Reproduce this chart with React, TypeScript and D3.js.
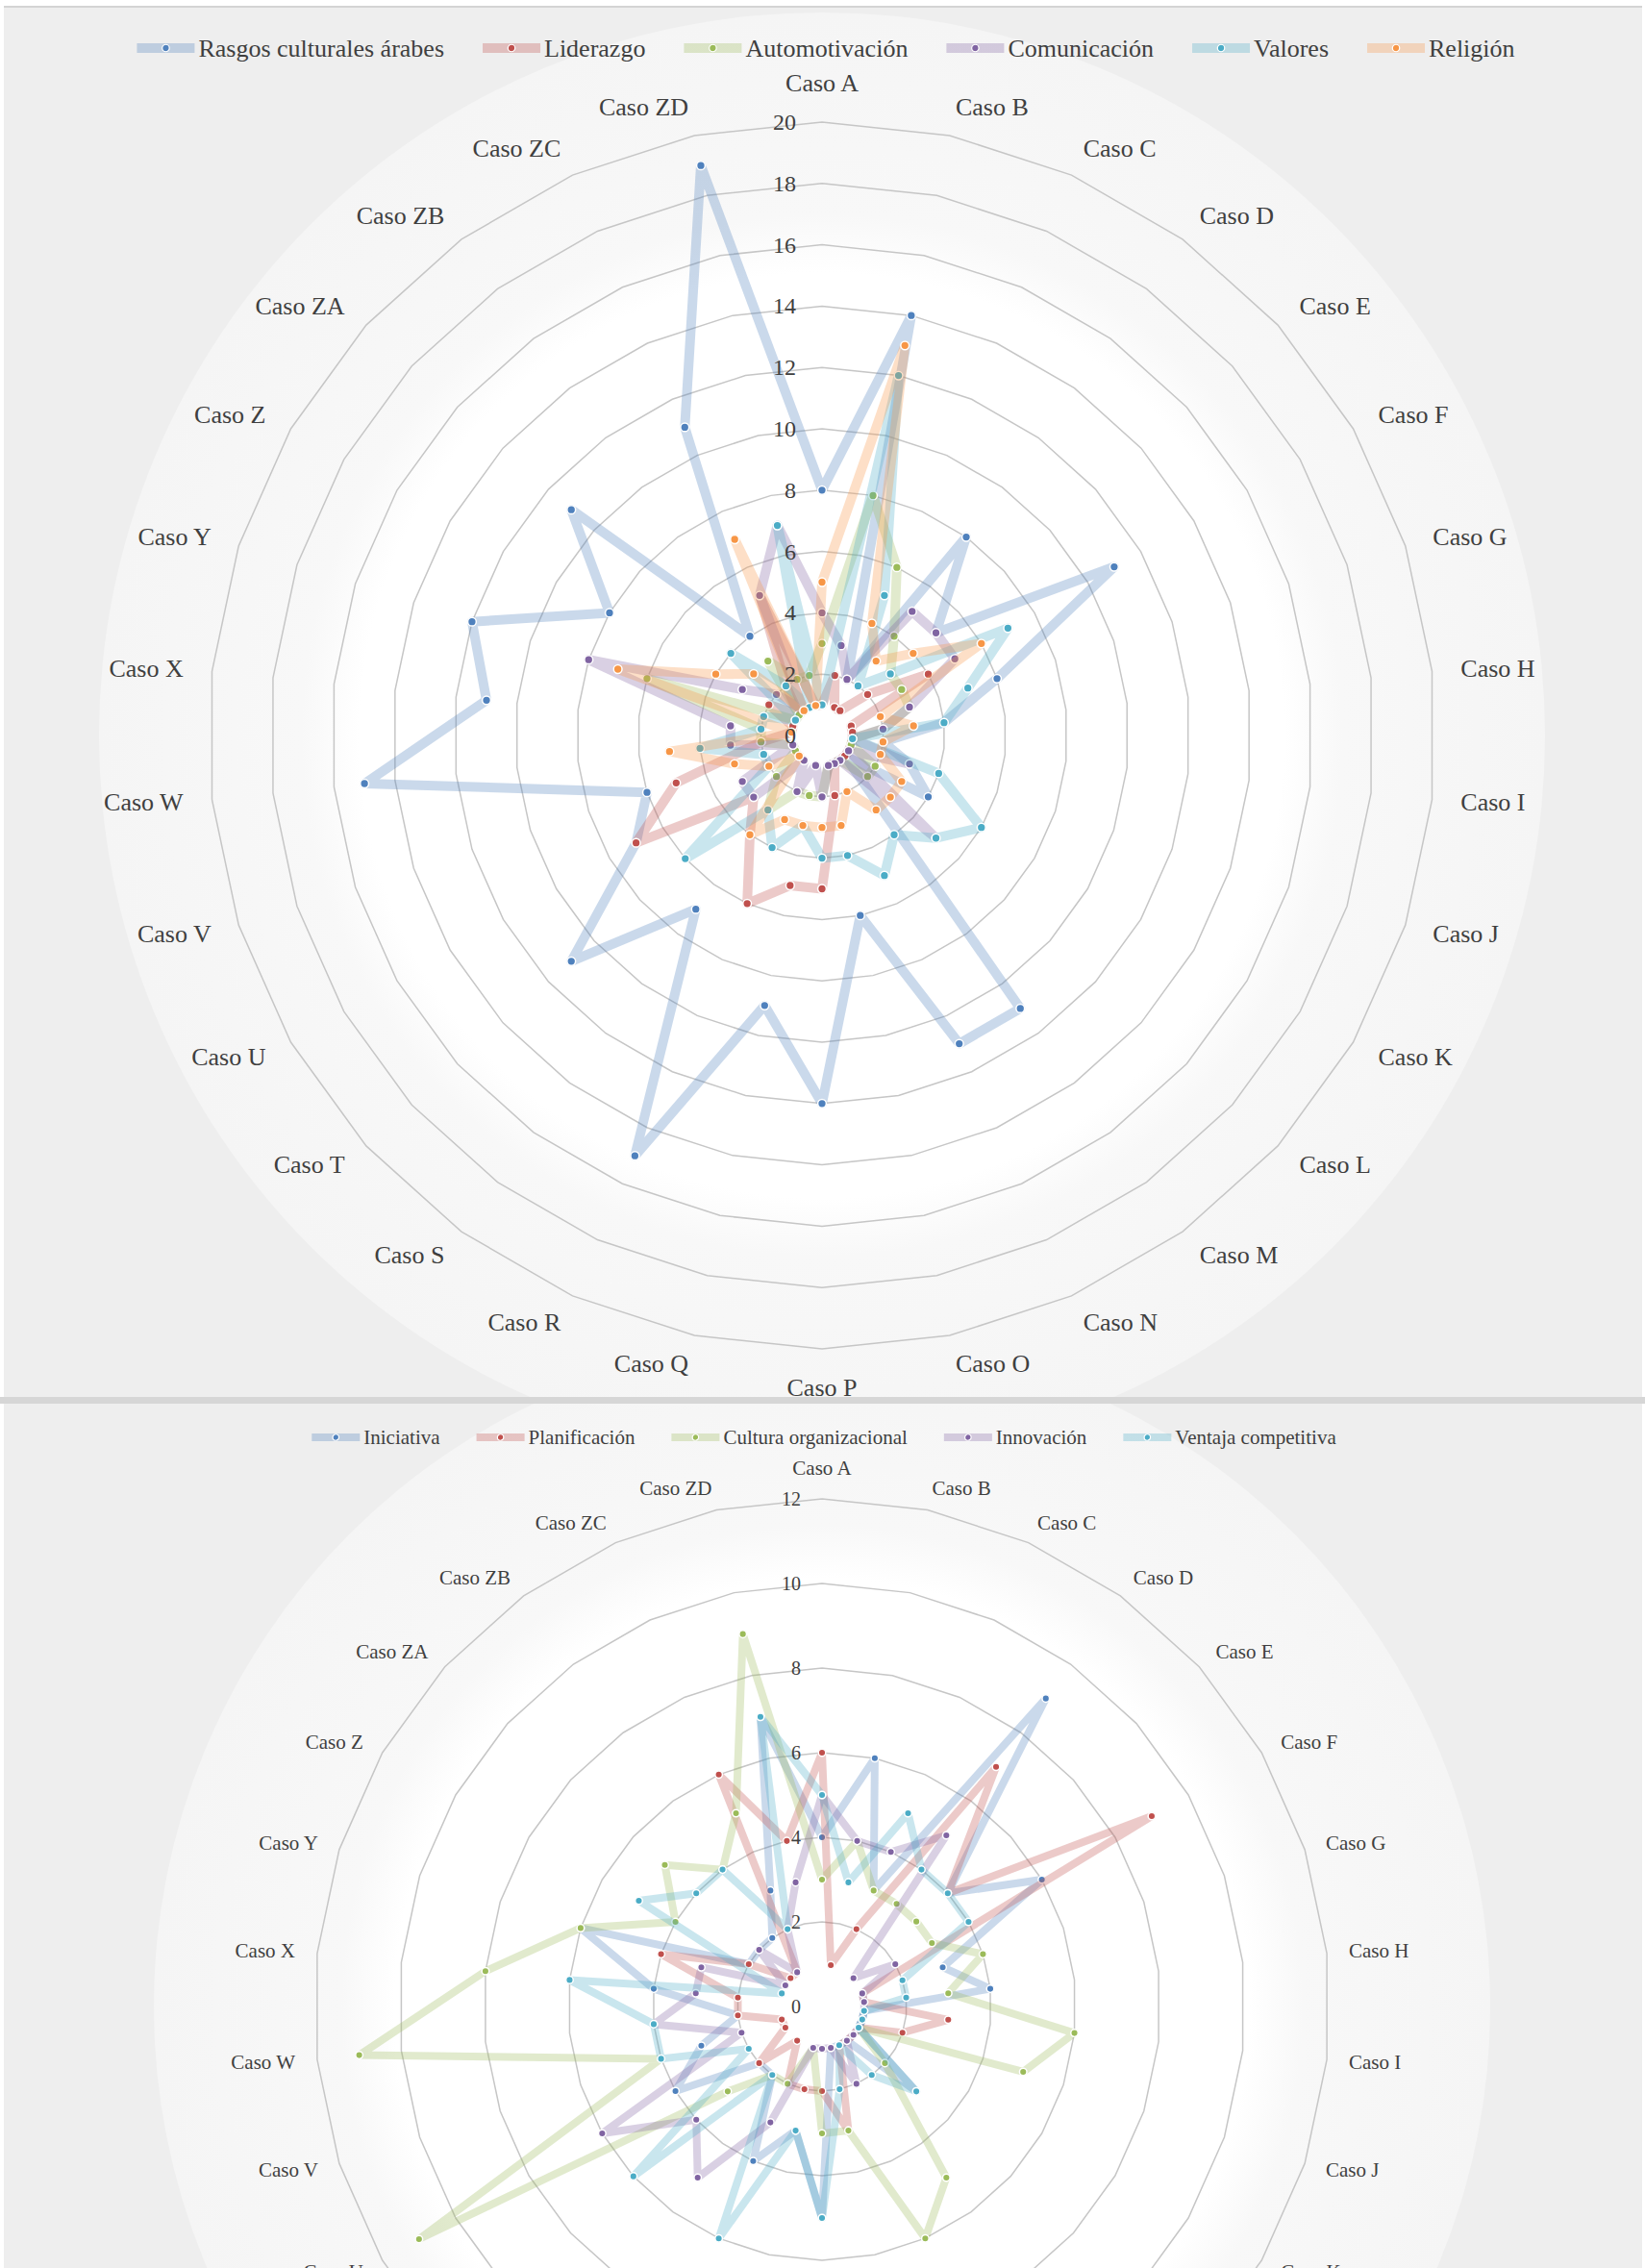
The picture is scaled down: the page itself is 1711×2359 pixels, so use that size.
import React, { useEffect, useRef } from 'react';
import * as d3 from 'd3';

const casos = [
  'Caso A', 'Caso B', 'Caso C', 'Caso D', 'Caso E', 'Caso F', 'Caso G', 'Caso H',
  'Caso I', 'Caso J', 'Caso K', 'Caso L', 'Caso M', 'Caso N', 'Caso O', 'Caso P',
  'Caso Q', 'Caso R', 'Caso S', 'Caso T', 'Caso U', 'Caso V', 'Caso W', 'Caso X',
  'Caso Y', 'Caso Z', 'Caso ZA', 'Caso ZB', 'Caso ZC', 'Caso ZD',
];

const topTicks = [0, 2, 4, 6, 8, 10, 12, 14, 16, 18, 20];
const bottomTicks = [0, 2, 4, 6, 8, 10, 12];

// top chart series (Caso A .. Caso ZD)
const rasgos = [8, 14, 2, 8, 5, 11, 6, 4, 2, 3, 4, 1, 11, 11, 6, 12, 9, 15, 7, 11, 7, 6, 15, 11, 12, 8, 11, 4, 11, 19];
const liderazgo = [1, 2, 1, 1, 2, 4, 1, 1, 1, 1, 1, 1, 1, 1, 2, 5, 5, 6, 4, 3, 7, 5, 2, 1, 1, 2, 1, 2, 5, 1];
const automotivacion = [3, 8, 6, 4, 3, 3, 3, 2, 1, 1, 2, 2, 1, 1, 1, 2, 2, 2, 3, 2, 1, 1, 2, 2, 6, 1, 1, 3, 2, 2];
const comunicacion = [4, 3, 2, 5, 5, 5, 3, 2, 1, 3, 1, 5, 1, 1, 1, 2, 1, 2, 1, 3, 3, 1, 3, 3, 8, 3, 2, 1, 5, 7];
const valores = [1, 12, 5, 2, 3, 7, 5, 4, 1, 4, 6, 5, 4, 5, 4, 4, 3, 4, 3, 6, 2, 2, 4, 2, 2, 1, 4, 2, 1, 7];
const religion = [5, 13, 4, 3, 4, 6, 2, 3, 2, 2, 3, 3, 3, 2, 3, 3, 3, 3, 4, 1, 2, 3, 5, 1, 7, 4, 3, 1, 7, 1];

// bottom chart series
const iniciativa = [4, 6, 3, 9, 4, 6, 3, 4, 1, 1, 1, 3, 1, 1, 1, 5, 3, 4, 2, 2, 4, 3, 2, 4, 6, 2, 2, 2, 3, 7];
const planificacion = [6, 1, 2, 7, 4, 9, 1, 1, 3, 2, 1, 1, 1, 1, 3, 2, 2, 2, 1, 2, 1, 1, 2, 2, 4, 2, 1, 1, 6, 4];
const cultura = [3, 4, 3, 3, 3, 3, 4, 3, 6, 5, 1, 2, 5, 6, 3, 3, 1, 2, 2, 3, 11, 4, 11, 8, 6, 4, 5, 4, 5, 9];
const innovacion = [5, 4, 4, 5, 1, 2, 1, 1, 1, 1, 1, 1, 1, 2, 1, 1, 1, 3, 5, 4, 6, 2, 4, 3, 3, 1, 2, 1, 2, 3];
const ventaja = [5, 3, 5, 4, 4, 4, 2, 2, 1, 1, 1, 3, 2, 1, 2, 5, 3, 6, 2, 6, 2, 4, 4, 6, 1, 5, 4, 4, 2, 7];

const colors = ['#4F81BD', '#C0504D', '#9BBB59', '#8064A2', '#4BACC6', '#F79646'];

const topSeries = [
  { name: 'Rasgos culturales árabes', values: rasgos },
  { name: 'Liderazgo', values: liderazgo },
  { name: 'Automotivación', values: automotivacion },
  { name: 'Comunicación', values: comunicacion },
  { name: 'Valores', values: valores },
  { name: 'Religión', values: religion },
];

const bottomSeries = [
  { name: 'Iniciativa', values: iniciativa },
  { name: 'Planificación', values: planificacion },
  { name: 'Cultura organizacional', values: cultura },
  { name: 'Innovación', values: innovacion },
  { name: 'Ventaja competitiva', values: ventaja },
];

const FONT = '"Liberation Serif", "Times New Roman", serif';
const W = 1711;
const H = 2359;

type Series = { name: string; values: number[] };

interface RadarOpts {
  id: string;
  panel: { x: number; y: number; w: number; h: number };
  cx: number;
  cy: number;
  radius: number;
  ticks: number[];
  labelR: number;
  labelSize: number;
  tickSize: number;
  tickDx: number;
  outerR: number;
  series: Series[];
  lineWidth: number;
  markerR: number;
  legendY: number;
  legendSize: number;
  legendCenter: number;
  sampleLen: number;
  itemGap: number;
}

function drawRadar(svg: d3.Selection<SVGSVGElement, unknown, null, undefined>, o: RadarOpts) {
  const defs = svg.select('defs');
  const grad = defs.append('radialGradient')
    .attr('id', `bg-${o.id}`)
    .attr('gradientUnits', 'userSpaceOnUse')
    .attr('cx', o.cx).attr('cy', o.cy).attr('r', o.outerR);
  grad.append('stop').attr('offset', '0').attr('stop-color', '#ffffff');
  grad.append('stop').attr('offset', '0.64').attr('stop-color', '#ffffff');
  grad.append('stop').attr('offset', '0.72').attr('stop-color', '#f8f8f8');
  grad.append('stop').attr('offset', '1').attr('stop-color', '#f5f5f5');

  defs.append('clipPath').attr('id', `clip-${o.id}`)
    .append('rect')
    .attr('x', o.panel.x).attr('y', o.panel.y)
    .attr('width', o.panel.w).attr('height', o.panel.h);

  const g = svg.append('g').attr('clip-path', `url(#clip-${o.id})`);

  g.append('rect')
    .attr('x', o.panel.x).attr('y', o.panel.y)
    .attr('width', o.panel.w).attr('height', o.panel.h)
    .attr('fill', '#eeeeee');
  g.append('circle')
    .attr('cx', o.cx).attr('cy', o.cy).attr('r', o.outerR)
    .attr('fill', `url(#bg-${o.id})`);

  const max = o.ticks[o.ticks.length - 1];
  const r = d3.scaleLinear().domain([0, max]).range([0, o.radius]);
  const n = casos.length;
  const angle = (i: number) => (i * 2 * Math.PI) / n;

  const plot = g.append('g').attr('transform', `translate(${o.cx},${o.cy})`);

  // grid rings
  const ring = d3.lineRadial<string>()
    .angle((_, i) => angle(i))
    .curve(d3.curveLinearClosed);
  o.ticks.filter(t => t > 0).forEach(t => {
    plot.append('path')
      .attr('d', ring.radius(r(t))(casos))
      .attr('fill', 'none')
      .attr('stroke', '#c6c6c6')
      .attr('stroke-width', 1.5);
  });

  // category labels
  casos.forEach((c, i) => {
    const a = angle(i);
    const s = Math.sin(a);
    const co = Math.cos(a);
    let rr = o.labelR;
    const anchor = s > 0.05 ? 'start' : s < -0.05 ? 'end' : 'middle';
    if (anchor === 'middle') rr += o.labelSize * 0.42;
    const y = o.cy - rr * co;
    if (y - o.labelSize * 0.3 > o.panel.y + o.panel.h) return;
    g.append('text')
      .attr('x', o.cx + rr * s)
      .attr('y', y)
      .attr('text-anchor', anchor)
      .attr('dominant-baseline', 'central')
      .attr('font-family', FONT)
      .attr('font-size', o.labelSize)
      .attr('fill', '#3f3f3f')
      .text(c);
  });

  // series
  const line = d3.lineRadial<number>()
    .angle((_, i) => angle(i))
    .radius(d => r(d))
    .curve(d3.curveLinearClosed);

  o.series.forEach((s, k) => {
    const col = colors[k];
    const sg = plot.append('g');
    sg.append('path')
      .attr('d', line(s.values))
      .attr('fill', 'none')
      .attr('stroke', col)
      .attr('stroke-opacity', 0.3)
      .attr('stroke-width', o.lineWidth)
      .attr('stroke-linejoin', 'round');
    sg.selectAll('circle')
      .data(s.values)
      .enter()
      .append('circle')
      .attr('cx', (d, i) => r(d) * Math.sin(angle(i)))
      .attr('cy', (d, i) => -r(d) * Math.cos(angle(i)))
      .attr('r', o.markerR)
      .attr('fill', col)
      .attr('stroke', '#ffffff')
      .attr('stroke-width', 1.5);
  });

  // tick labels
  o.ticks.forEach(t => {
    plot.append('text')
      .attr('x', -o.tickDx)
      .attr('y', -r(t))
      .attr('text-anchor', 'end')
      .attr('dominant-baseline', 'central')
      .attr('font-family', FONT)
      .attr('font-size', o.tickSize)
      .attr('fill', '#3f3f3f')
      .text(t);
  });

  // legend
  const lg = g.append('g');
  let x = 0;
  o.series.forEach((s, k) => {
    const col = colors[k];
    const item = lg.append('g').attr('transform', `translate(${x},${o.legendY})`);
    item.append('line')
      .attr('x1', 0).attr('x2', o.sampleLen)
      .attr('stroke', col).attr('stroke-opacity', 0.3)
      .attr('stroke-width', o.lineWidth);
    item.append('circle')
      .attr('cx', o.sampleLen / 2).attr('r', o.markerR * 0.85)
      .attr('fill', col).attr('stroke', '#fff').attr('stroke-width', 1.2);
    const txt = item.append('text')
      .attr('x', o.sampleLen + 4)
      .attr('dominant-baseline', 'central')
      .attr('font-family', FONT)
      .attr('font-size', o.legendSize)
      .attr('fill', '#3f3f3f')
      .text(s.name);
    const tw = (txt.node() as SVGTextElement).getComputedTextLength();
    x += o.sampleLen + 4 + tw + o.itemGap;
  });
  const total = x - o.itemGap;
  lg.attr('transform', `translate(${o.legendCenter - total / 2},0)`);
}

const App = () => {
  const ref = useRef<SVGSVGElement | null>(null);

  useEffect(() => {
    if (!ref.current) return;
    document.body.style.margin = '0';
    const svg = d3.select(ref.current);
    svg.selectAll('*').remove();
    svg.append('defs');

    svg.append('rect').attr('width', W).attr('height', H).attr('fill', '#ffffff');

    drawRadar(svg, {
      id: 'top',
      panel: { x: 4, y: 7, w: 1704, h: 1446 },
      cx: 855, cy: 765, radius: 638,
      ticks: topTicks,
      labelR: 668, labelSize: 26, tickSize: 24, tickDx: 27,
      outerR: 752,
      series: topSeries,
      lineWidth: 10, markerR: 4.4,
      legendY: 50, legendSize: 26, legendCenter: 859,
      sampleLen: 60, itemGap: 40,
    });

    drawRadar(svg, {
      id: 'bottom',
      panel: { x: 4, y: 1460, w: 1704, h: 899 },
      cx: 855, cy: 2087, radius: 528,
      ticks: bottomTicks,
      labelR: 551, labelSize: 21, tickSize: 20, tickDx: 22,
      outerR: 695,
      series: bottomSeries,
      lineWidth: 8, markerR: 3.8,
      legendY: 1495, legendSize: 21, legendCenter: 857,
      sampleLen: 50, itemGap: 38,
    });

    // panel frames
    svg.append('line').attr('x1', 4).attr('x2', 1708).attr('y1', 7).attr('y2', 7)
      .attr('stroke', '#d4d4d4').attr('stroke-width', 2);
    svg.append('rect').attr('x', 0).attr('y', 1453).attr('width', W).attr('height', 7)
      .attr('fill', '#d6d6d6');
  }, []);

  return (
    <svg ref={ref} width={W} height={H} style={{ position: 'absolute', left: 0, top: 0 }} />
  );
};

export default App;
